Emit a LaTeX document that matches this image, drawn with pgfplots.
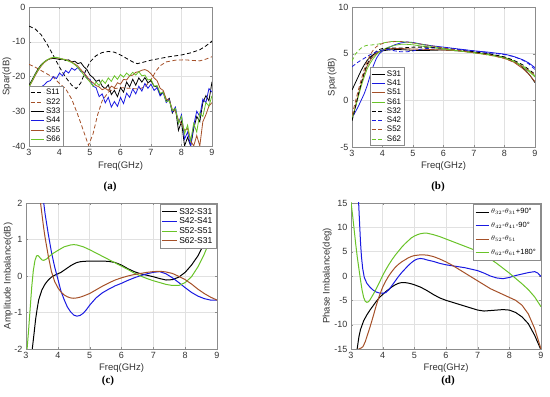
\documentclass[border=0pt]{standalone}
\usepackage{fontspec}
\setmainfont{Liberation Sans}
\newfontfamily\serifb{Liberation Serif}
\usepackage{pgfplots}
\pgfplotsset{compat=1.18}
\definecolor{mblue}{RGB}{25,25,225}
\definecolor{mbrown}{RGB}{165,80,40}
\definecolor{mgreen}{RGB}{105,195,40}
\definecolor{axgray}{RGB}{140,140,140}
\definecolor{gridgray}{RGB}{225,225,225}
\pgfplotsset{
 mstyle/.style={
  scale only axis, anchor=south west,
  xmin=3,xmax=9, xtick={3,4,5,6,7,8,9},
  axis line style={axgray, line width=0.5pt},
  grid=major, major grid style={gridgray, line width=0.4pt},
  tick align=inside, major tick length=2pt, tick style={axgray},
  ticklabel style={font=\fontsize{9}{10}\selectfont, text=black!80},
  /pgf/number format/assume math mode=true,
  label style={font=\fontsize{9.5}{11}\selectfont, text=black!80},
  xlabel={Freq(GHz)},
  legend cell align=left,
  legend image code/.code={\draw[##1] (0pt,0pt) -- (13pt,0pt);},
  legend style={font=\fontsize{8}{8.5}\selectfont, draw=axgray, fill=white, inner sep=1pt, row sep=-1.8pt},
  every axis plot/.append style={line width=0.8pt},
 },
 longleg/.style={legend image code/.code={\draw[##1] (0pt,0pt) -- (15pt,0pt);}},
 dsh/.style={dash pattern=on 4pt off 2.5pt},
}
\begin{document}
\begin{tikzpicture}
\useasboundingbox (0,0) rectangle (550pt,397pt);
% ---------------- (a)
\begin{axis}[mstyle, at={(29pt,251pt)}, width=183pt, height=139pt,
  ymin=-40, ymax=0, ytick={-40,-30,-20,-10,0},
  ylabel={Spar(dB)},
  xlabel style={at={(axis description cs:0.5,-0.144)}, anchor=center},
  ylabel style={at={(axis description cs:-0.12,0.5)}, anchor=center},
  legend style={at={(rel axis cs:0,0)}, anchor=south west}]
\addplot[black, dsh] coordinates {(3.0,-5.5)(3.2,-6.3)(3.4,-8.0)(3.6,-10.8)(3.8,-14.0)(4.0,-17.3)(4.2,-20.2)(4.4,-22.5)(4.55,-23.5)(4.7,-21.8)(4.85,-18.5)(5.0,-15.8)(5.2,-14.0)(5.4,-13.1)(5.6,-12.8)(5.8,-13.0)(6.0,-13.8)(6.2,-14.8)(6.4,-15.8)(6.55,-16.3)(6.7,-16.0)(7.0,-15.3)(7.3,-14.8)(7.6,-14.3)(8.0,-13.8)(8.3,-13.2)(8.6,-12.3)(8.8,-11.2)(9.0,-9.8)};
\addlegendentry{S11}
\addplot[mbrown, dsh] coordinates {(3.0,-16.5)(3.2,-17.3)(3.4,-18.3)(3.6,-19.3)(3.8,-20.3)(4.0,-22.0)(4.2,-23.5)(4.4,-26.5)(4.6,-31.0)(4.8,-36.0)(4.95,-39.8)(5.1,-36.5)(5.25,-31.0)(5.4,-27.0)(5.6,-24.5)(5.8,-23.5)(6.0,-23.2)(6.3,-23.4)(6.6,-23.6)(6.8,-23.0)(7.0,-21.0)(7.15,-18.6)(7.3,-16.9)(7.5,-15.8)(7.8,-15.3)(8.1,-15.2)(8.4,-15.4)(8.6,-15.5)(8.8,-15.0)(9.0,-14.3)};
\addlegendentry{S22}
\addplot[black] coordinates {(3.0,-22.5)(3.1,-21)(3.2,-19.3)(3.3,-17.8)(3.4,-16.6)(3.5,-15.8)(3.6,-15.2)(3.7,-14.9)(3.8,-14.8)(3.9,-14.9)(4.0,-15.1)(4.1,-15.0)(4.2,-15.4)(4.3,-15.2)(4.4,-15.8)(4.5,-15.6)(4.6,-16.3)(4.7,-16.0)(4.8,-17.2)(4.9,-18.0)(5.0,-19.6)(5.1,-20.3)(5.2,-21.4)(5.3,-21.0)(5.4,-22.8)(5.5,-23.5)(5.6,-22.4)(5.7,-25.2)(5.8,-24.0)(5.9,-25.8)(6.0,-23.2)(6.1,-24.5)(6.2,-21.6)(6.3,-23.0)(6.4,-20.8)(6.5,-22.5)(6.6,-20.4)(6.7,-21.6)(6.8,-20.3)(6.9,-21.8)(7.0,-21.2)(7.1,-22.8)(7.2,-23.0)(7.3,-25.2)(7.4,-24.4)(7.5,-27.0)(7.6,-26.3)(7.7,-30.5)(7.8,-29.0)(7.9,-35.5)(8.0,-33.0)(8.1,-40)(8.2,-37.5)(8.3,-40)(8.4,-35)(8.5,-31.5)(8.6,-33)(8.7,-27.5)(8.8,-25.5)(8.9,-27)(9.0,-21.5)};
\addlegendentry{S33}
\addplot[mblue] coordinates {(3.0,-22.5)(3.1,-23.2)(3.2,-23.8)(3.3,-23.5)(3.4,-23.0)(3.5,-22.4)(3.6,-21.5)(3.7,-21.2)(3.8,-20.0)(3.9,-20.6)(4.0,-19.0)(4.1,-19.8)(4.2,-18.3)(4.3,-19.0)(4.4,-17.6)(4.5,-18.2)(4.6,-17.4)(4.7,-18.6)(4.8,-18.8)(4.9,-20.5)(5.0,-20.8)(5.1,-22.8)(5.2,-23.2)(5.3,-25.8)(5.4,-25.0)(5.5,-27.6)(5.6,-26.0)(5.7,-28.8)(5.8,-27.2)(5.9,-28.6)(6.0,-26.0)(6.1,-27.8)(6.2,-24.8)(6.3,-26.0)(6.4,-23.6)(6.5,-25.0)(6.6,-22.8)(6.7,-24.2)(6.8,-22.0)(6.9,-23.4)(7.0,-22.2)(7.1,-24.0)(7.2,-23.2)(7.3,-25.6)(7.4,-24.6)(7.5,-27.5)(7.6,-26.6)(7.7,-30.2)(7.8,-28.8)(7.9,-33.5)(8.0,-31.0)(8.1,-38)(8.2,-36)(8.3,-40)(8.4,-34)(8.5,-30)(8.6,-31.5)(8.7,-26.5)(8.8,-27.5)(8.9,-23.5)(9.0,-24.5)};
\addlegendentry{S44}
\addplot[mbrown] coordinates {(3.0,-23)(3.1,-21.5)(3.2,-19.8)(3.3,-18.3)(3.4,-17)(3.5,-16)(3.6,-15.3)(3.7,-14.8)(3.8,-14.6)(3.9,-14.6)(4.0,-14.8)(4.1,-15.0)(4.2,-15.1)(4.3,-15.5)(4.4,-15.8)(4.5,-16.4)(4.6,-17.0)(4.7,-18.0)(4.8,-19.0)(4.9,-20.0)(5.0,-21.2)(5.1,-21.8)(5.2,-22.6)(5.3,-23.0)(5.4,-23.8)(5.5,-23.4)(5.6,-24.0)(5.7,-22.8)(5.8,-23.2)(5.9,-21.8)(6.0,-22.2)(6.1,-20.8)(6.2,-21.0)(6.3,-19.8)(6.4,-19.6)(6.5,-18.8)(6.6,-18.6)(6.7,-18.2)(6.8,-18.0)(6.9,-18.4)(7.0,-19.2)(7.1,-20.4)(7.2,-21.2)(7.3,-23.4)(7.4,-24.0)(7.5,-26.5)(7.6,-26.8)(7.7,-29.5)(7.8,-30.0)(7.9,-32.5)(8.0,-33.5)(8.1,-35.5)(8.2,-35)(8.3,-38.5)(8.4,-40)(8.5,-37)(8.6,-40)(8.7,-33)(8.8,-31)(8.9,-28.5)(9.0,-27.5)};
\addlegendentry{S55}
\addplot[mgreen] coordinates {(3.0,-23)(3.1,-21.3)(3.2,-19.5)(3.3,-18.0)(3.4,-16.8)(3.5,-15.8)(3.6,-15.2)(3.7,-14.7)(3.8,-14.5)(3.9,-14.5)(4.0,-14.7)(4.1,-15.0)(4.2,-15.2)(4.3,-15.6)(4.4,-16.0)(4.5,-16.6)(4.6,-17.4)(4.7,-18.4)(4.8,-19.6)(4.9,-20.6)(5.0,-21.6)(5.1,-22.8)(5.2,-21.6)(5.3,-22.6)(5.4,-21.0)(5.5,-22.0)(5.6,-20.4)(5.7,-21.4)(5.8,-19.8)(5.9,-20.8)(6.0,-19.4)(6.1,-20.2)(6.2,-19.0)(6.3,-19.8)(6.4,-18.8)(6.5,-19.6)(6.6,-18.6)(6.7,-19.8)(6.8,-19.6)(6.9,-21.0)(7.0,-20.8)(7.1,-22.8)(7.2,-22.6)(7.3,-24.8)(7.4,-24.6)(7.5,-27.2)(7.6,-27.0)(7.7,-29.8)(7.8,-29.2)(7.9,-33.5)(8.0,-31.5)(8.1,-36.5)(8.2,-34)(8.3,-38.5)(8.4,-33.5)(8.5,-36)(8.6,-30.5)(8.7,-31.5)(8.8,-27.5)(8.9,-28.5)(9.0,-25.5)};
\addlegendentry{S66}
\end{axis}
% ---------------- (b)
\begin{axis}[mstyle, at={(352pt,250pt)}, width=183pt, height=140pt,
  ymin=-5, ymax=10, ytick={-5,0,5,10},
  ylabel={Spar(dB)},
  xlabel style={at={(axis description cs:0.5,-0.136)}, anchor=center},
  ylabel style={at={(axis description cs:-0.109,0.5)}, anchor=center},
  legend style={at={(axis description cs:0.098,0.008)}, anchor=south west}]
\addplot[black] coordinates {(3.0,1.1)(3.1,1.8)(3.2,2.5)(3.3,3.2)(3.4,3.8)(3.5,4.3)(3.6,4.65)(3.7,4.9)(3.8,5.05)(3.9,5.2)(4.0,5.3)(4.2,5.4)(4.5,5.45)(4.8,5.4)(5.0,5.35)(5.5,5.35)(6.0,5.4)(6.5,5.3)(7.0,5.15)(7.5,4.95)(8.0,4.6)(8.3,4.2)(8.5,3.8)(8.7,3.2)(8.85,2.6)(9.0,1.9)};
\addlegendentry{S31}
\addplot[mblue] coordinates {(3.0,-1.9)(3.1,-1.3)(3.2,-0.7)(3.3,0.0)(3.4,0.7)(3.5,1.6)(3.6,2.7)(3.7,3.7)(3.8,4.5)(3.9,5.0)(4.0,5.3)(4.2,5.65)(4.4,5.95)(4.6,6.15)(4.8,6.25)(5.0,6.2)(5.3,6.0)(5.6,5.85)(6.0,5.7)(6.5,5.5)(7.0,5.3)(7.5,5.15)(8.0,4.95)(8.3,4.7)(8.6,4.35)(8.8,4.0)(9.0,3.5)};
\addlegendentry{S41}
\addplot[mbrown] coordinates {(3.0,-2.0)(3.1,-0.8)(3.2,0.5)(3.3,1.7)(3.4,2.8)(3.5,3.7)(3.6,4.3)(3.7,4.75)(3.8,5.05)(3.9,5.25)(4.0,5.4)(4.3,5.55)(4.6,5.55)(5.0,5.5)(5.5,5.45)(6.0,5.4)(6.5,5.3)(7.0,5.1)(7.5,4.9)(8.0,4.5)(8.3,4.1)(8.6,3.4)(8.8,2.8)(9.0,2.0)};
\addlegendentry{S51}
\addplot[mgreen] coordinates {(3.0,-2.0)(3.1,-0.9)(3.2,0.3)(3.3,1.5)(3.4,2.5)(3.5,3.4)(3.6,4.0)(3.7,4.5)(3.8,4.9)(3.9,5.2)(4.0,5.4)(4.2,5.7)(4.4,5.9)(4.6,6.0)(4.8,6.0)(5.0,5.95)(5.5,5.7)(6.0,5.5)(6.5,5.3)(7.0,5.1)(7.5,4.9)(8.0,4.6)(8.3,4.2)(8.6,3.6)(8.8,3.1)(9.0,2.5)};
\addlegendentry{S61}
\addplot[black, dsh] coordinates {(3.0,-2.2)(3.1,-0.9)(3.2,0.5)(3.3,1.8)(3.4,3.0)(3.5,3.9)(3.6,4.5)(3.7,4.95)(3.8,5.25)(3.9,5.45)(4.0,5.55)(4.3,5.6)(4.6,5.6)(5.0,5.7)(5.5,5.7)(6.0,5.6)(6.5,5.4)(7.0,5.2)(7.5,5.0)(8.0,4.65)(8.3,4.3)(8.6,3.8)(8.8,3.3)(9.0,2.8)};
\addlegendentry{S32}
\addplot[mblue, dsh] coordinates {(3.0,3.6)(3.2,4.1)(3.4,4.5)(3.6,4.9)(3.8,5.2)(4.0,5.4)(4.2,5.45)(4.4,5.3)(4.6,5.2)(4.8,5.2)(5.0,5.3)(5.3,5.5)(5.6,5.6)(6.0,5.6)(6.5,5.45)(7.0,5.3)(7.5,5.1)(8.0,4.9)(8.3,4.7)(8.6,4.3)(8.8,3.9)(9.0,3.3)};
\addlegendentry{S42}
\addplot[mbrown, dsh] coordinates {(3.0,-1.6)(3.1,-0.3)(3.2,1.0)(3.3,2.2)(3.4,3.3)(3.5,4.2)(3.6,4.9)(3.7,5.4)(3.8,5.75)(3.9,5.95)(4.0,6.1)(4.2,6.25)(4.4,6.3)(4.6,6.3)(4.8,6.25)(5.0,6.15)(5.5,5.9)(6.0,5.6)(6.5,5.35)(7.0,5.1)(7.5,4.85)(8.0,4.5)(8.3,4.1)(8.6,3.6)(8.8,3.2)(9.0,2.7)};
\addlegendentry{S52}
\addplot[mgreen, dsh] coordinates {(3.0,4.2)(3.1,4.9)(3.2,5.3)(3.3,5.6)(3.4,5.8)(3.5,5.9)(3.7,5.95)(3.9,6.05)(4.1,6.2)(4.3,6.3)(4.6,6.3)(5.0,6.15)(5.5,5.85)(6.0,5.55)(6.5,5.3)(7.0,5.1)(7.5,4.85)(8.0,4.55)(8.3,4.2)(8.6,3.7)(8.8,3.2)(9.0,2.6)};
\addlegendentry{S62}
\end{axis}
% ---------------- (c)
\begin{axis}[mstyle, longleg, at={(26pt,48pt)}, width=191pt, height=146pt,
  ymin=-2, ymax=2, ytick={-2,-1,0,1,2},
  ylabel={Amplitude Imbalance(dB)},
  every axis plot/.append style={line width=1pt},
  xlabel style={at={(axis description cs:0.5,-0.13)}, anchor=center},
  ylabel style={at={(axis description cs:-0.094,0.5)}, anchor=center},
  legend style={at={(axis description cs:0.995,0.99)}, anchor=north east, font=\fontsize{8.5}{9}\selectfont, inner sep=1.5pt}]
\addplot[black] coordinates {(3.19,-2.05)(3.25,-1.6)(3.3,-1.2)(3.35,-0.9)(3.4,-0.65)(3.5,-0.38)(3.6,-0.22)(3.7,-0.11)(3.8,-0.03)(3.9,0.02)(4.0,0.06)(4.1,0.1)(4.2,0.16)(4.3,0.22)(4.4,0.28)(4.5,0.33)(4.6,0.37)(4.7,0.39)(4.8,0.4)(5.0,0.41)(5.2,0.41)(5.4,0.41)(5.6,0.4)(5.8,0.37)(6.0,0.3)(6.2,0.2)(6.4,0.12)(6.6,0.06)(6.8,0.02)(7.0,-0.02)(7.2,-0.07)(7.4,-0.11)(7.6,-0.1)(7.8,-0.03)(8.0,0.1)(8.2,0.3)(8.4,0.55)(8.6,0.9)(8.8,1.32)(9.0,1.82)};
\addlegendentry{S32-S31}
\addplot[mblue] coordinates {(3.55,2.05)(3.6,1.7)(3.7,1.15)(3.8,0.65)(3.9,0.25)(4.0,-0.08)(4.1,-0.42)(4.2,-0.65)(4.3,-0.85)(4.4,-0.98)(4.5,-1.07)(4.6,-1.1)(4.7,-1.08)(4.8,-1.02)(4.9,-0.92)(5.0,-0.8)(5.2,-0.6)(5.4,-0.46)(5.6,-0.36)(5.8,-0.27)(6.0,-0.2)(6.2,-0.12)(6.4,-0.05)(6.6,0.01)(6.8,0.06)(7.0,0.1)(7.2,0.12)(7.4,0.06)(7.6,-0.05)(7.8,-0.18)(8.0,-0.32)(8.2,-0.45)(8.4,-0.55)(8.6,-0.62)(8.8,-0.66)(9.0,-0.66)};
\addlegendentry{S42-S41}
\addplot[mgreen] coordinates {(3.03,-2.05)(3.08,-1.5)(3.13,-0.9)(3.18,-0.3)(3.23,0.15)(3.28,0.42)(3.33,0.55)(3.38,0.56)(3.44,0.5)(3.5,0.44)(3.56,0.43)(3.65,0.47)(3.75,0.55)(3.85,0.62)(4.0,0.7)(4.2,0.8)(4.4,0.85)(4.5,0.86)(4.6,0.85)(4.8,0.8)(5.0,0.72)(5.2,0.63)(5.4,0.54)(5.6,0.45)(5.8,0.36)(6.0,0.27)(6.2,0.18)(6.4,0.08)(6.6,0.0)(6.8,-0.07)(7.0,-0.13)(7.2,-0.18)(7.4,-0.23)(7.6,-0.26)(7.8,-0.26)(8.0,-0.18)(8.2,-0.02)(8.4,0.25)(8.6,0.6)(8.8,1.02)(9.0,1.5)};
\addlegendentry{S52-S51}
\addplot[mbrown] coordinates {(3.45,2.05)(3.5,1.7)(3.55,1.35)(3.6,1.05)(3.7,0.55)(3.8,0.12)(3.9,-0.15)(4.0,-0.32)(4.1,-0.44)(4.2,-0.52)(4.3,-0.57)(4.4,-0.6)(4.5,-0.61)(4.6,-0.6)(4.7,-0.58)(4.8,-0.55)(5.0,-0.48)(5.2,-0.38)(5.4,-0.28)(5.6,-0.19)(5.8,-0.11)(6.0,-0.05)(6.2,0.0)(6.4,0.04)(6.6,0.07)(6.8,0.1)(7.0,0.12)(7.2,0.13)(7.4,0.11)(7.6,0.07)(7.8,-0.01)(8.0,-0.1)(8.2,-0.22)(8.4,-0.36)(8.6,-0.48)(8.8,-0.58)(9.0,-0.66)};
\addlegendentry{S62-S31}
\end{axis}
% ---------------- (d)
\begin{axis}[mstyle, at={(351pt,48pt)}, width=190pt, height=146pt,
  ymin=-15, ymax=15, ytick={-15,-10,-5,0,5,10,15},
  ylabel={Phase Imbalance(deg)},
  every axis plot/.append style={line width=1pt},
  xlabel style={at={(axis description cs:0.5,-0.13)}, anchor=center},
  ylabel style={at={(axis description cs:-0.126,0.5)}, anchor=center},
  legend style={at={(axis description cs:0.995,0.99)}, anchor=north east, font=\fontsize{7.5}{8}\selectfont, row sep=3pt, inner sep=2pt}]
\addplot[black] coordinates {(3.19,-15.2)(3.25,-12.5)(3.3,-11)(3.4,-9.2)(3.5,-8)(3.6,-7)(3.7,-6.1)(3.8,-5.2)(3.9,-4.4)(4.0,-3.8)(4.1,-3.2)(4.2,-2.7)(4.3,-2.2)(4.4,-1.8)(4.5,-1.5)(4.6,-1.35)(4.7,-1.35)(4.8,-1.45)(4.9,-1.6)(5.0,-1.8)(5.2,-2.3)(5.4,-3.0)(5.6,-3.8)(5.8,-4.5)(6.0,-5.0)(6.2,-5.4)(6.4,-5.8)(6.6,-6.2)(6.8,-6.6)(7.0,-7.0)(7.2,-7.2)(7.4,-7.1)(7.6,-7.0)(7.8,-6.9)(8.0,-7.0)(8.2,-7.5)(8.4,-8.4)(8.6,-9.8)(8.8,-12.2)(9.0,-15.2)};
\addlegendentry{$\theta_{32}$-$\theta_{31}$+90°}
\addplot[mblue] coordinates {(3.24,15.2)(3.27,11)(3.3,7)(3.33,4)(3.37,1.5)(3.42,-0.3)(3.5,-1.5)(3.6,-2.3)(3.7,-2.9)(3.8,-3.3)(3.9,-3.5)(4.0,-3.55)(4.1,-3.4)(4.2,-2.8)(4.3,-1.9)(4.4,-1.0)(4.5,-0.1)(4.6,0.7)(4.7,1.4)(4.8,2.1)(4.9,2.7)(5.0,3.2)(5.1,3.5)(5.2,3.6)(5.3,3.5)(5.4,3.3)(5.6,3.0)(5.8,2.6)(6.0,2.3)(6.2,2.1)(6.4,1.9)(6.6,1.7)(6.8,1.4)(7.0,1.1)(7.2,0.6)(7.4,0.0)(7.6,-0.4)(7.8,-0.55)(8.0,-0.3)(8.2,0.1)(8.4,0.4)(8.6,0.7)(8.8,0.9)(8.9,0.6)(9.0,-0.1)};
\addlegendentry{$\theta_{42}$-$\theta_{41}$-90°}
\addplot[mbrown] coordinates {(3.19,-15.2)(3.25,-15)(3.32,-14.8)(3.38,-14.5)(3.45,-13.5)(3.5,-12.5)(3.6,-10.5)(3.7,-8.3)(3.8,-6)(3.9,-4)(4.0,-2.3)(4.1,-1.0)(4.2,0.1)(4.3,1.0)(4.4,1.8)(4.5,2.4)(4.6,2.9)(4.7,3.3)(4.8,3.7)(4.9,4.0)(5.0,4.2)(5.2,4.35)(5.4,4.3)(5.6,4.0)(5.8,3.5)(6.0,2.9)(6.2,2.2)(6.4,1.4)(6.6,0.6)(6.8,-0.2)(7.0,-1.0)(7.2,-1.8)(7.4,-2.6)(7.6,-3.2)(7.8,-3.8)(8.0,-4.4)(8.2,-5.0)(8.4,-6.0)(8.6,-7.8)(8.8,-10.8)(9.0,-15.0)};
\addlegendentry{$\theta_{52}$-$\theta_{51}$}
\addplot[mgreen] coordinates {(3.0,15.2)(3.05,12.5)(3.1,9.5)(3.15,6.5)(3.2,3.8)(3.25,1.5)(3.3,-0.8)(3.35,-2.9)(3.4,-4.4)(3.45,-5.2)(3.5,-5.4)(3.55,-5.3)(3.6,-4.9)(3.7,-3.8)(3.8,-2.6)(3.9,-1.3)(4.0,0.1)(4.1,1.3)(4.2,2.4)(4.3,3.4)(4.4,4.3)(4.5,5.1)(4.6,5.9)(4.7,6.6)(4.8,7.2)(4.9,7.8)(5.0,8.2)(5.1,8.5)(5.2,8.7)(5.3,8.8)(5.4,8.8)(5.6,8.5)(5.8,8.1)(6.0,7.6)(6.2,7.1)(6.4,6.6)(6.6,6.1)(6.8,5.6)(7.0,5.0)(7.2,4.3)(7.4,3.5)(7.6,2.6)(7.8,1.6)(8.0,0.6)(8.2,-0.5)(8.4,-1.6)(8.6,-2.8)(8.8,-4.3)(9.0,-6.3)};
\addlegendentry{$\theta_{62}$-$\theta_{61}$+180°}
\end{axis}
\node[font=\serifb\bfseries\fontsize{11}{12}\selectfont] at (110pt,210pt) {(a)};
\node[font=\serifb\bfseries\fontsize{11}{12}\selectfont] at (438pt,210pt) {(b)};
\node[font=\serifb\bfseries\fontsize{11}{12}\selectfont] at (108pt,16pt) {(c)};
\node[font=\serifb\bfseries\fontsize{11}{12}\selectfont] at (448pt,16pt) {(d)};
\end{tikzpicture}
\end{document}
